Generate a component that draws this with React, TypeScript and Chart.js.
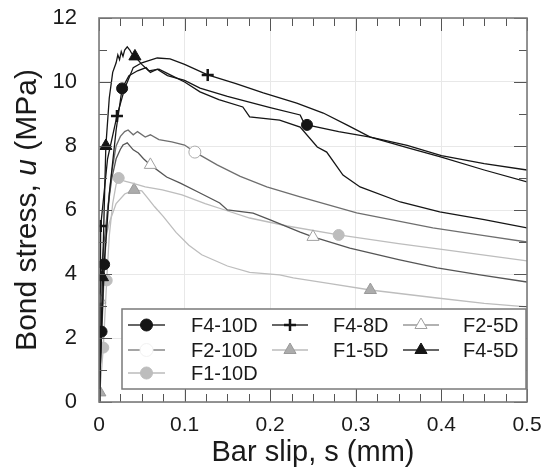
import React, { useEffect, useRef } from 'react';
import { Chart, registerables } from 'chart.js';
Chart.register(...registerables);

// ---- data: slip s (mm) and bond stress u (MPa) ----
const sF410D = [0, 0.003, 0.006, 0.012, 0.02, 0.027, 0.035, 0.045, 0.055, 0.06, 0.068, 0.08, 0.1, 0.118, 0.15, 0.2, 0.235, 0.238, 0.243, 0.28, 0.317, 0.36, 0.4, 0.45, 0.5];
const uF410D = [0, 2.2, 4.3, 6.5, 8.5, 9.8, 10.2, 10.35, 10.45, 10.3, 10.4, 10.2, 10.05, 9.81, 9.55, 9.2, 8.97, 8.8, 8.66, 8.45, 8.28, 8.02, 7.7, 7.45, 7.25];
const mkF410D = [0.003, 0.006, 0.027, 0.243];

const sF48D = [0, 0.001, 0.002, 0.01, 0.021, 0.03, 0.04, 0.05, 0.068, 0.083, 0.1, 0.127, 0.16, 0.192, 0.231, 0.262, 0.29, 0.317, 0.36, 0.4, 0.45, 0.5];
const uF48D = [0, 2.2, 5.5, 7.6, 8.94, 9.8, 10.45, 10.6, 10.75, 10.72, 10.55, 10.22, 9.95, 9.66, 9.34, 9.03, 8.65, 8.28, 7.95, 7.65, 7.25, 6.88];
const mkF48D = [0.002, 0.021, 0.127];

const sF45D = [0, 0.002, 0.004, 0.008, 0.012, 0.016, 0.02, 0.022, 0.024, 0.026, 0.028, 0.03, 0.033, 0.036, 0.038, 0.042, 0.05, 0.058, 0.07, 0.085, 0.1, 0.118, 0.14, 0.168, 0.176, 0.211, 0.235, 0.255, 0.266, 0.285, 0.305, 0.352, 0.398, 0.45, 0.5];
const uF45D = [0, 1.5, 3.9, 8.0, 9.5, 10.3, 10.6, 10.85, 10.7, 10.95, 10.8, 11.0, 11.1, 11.0, 10.9, 10.8, 10.55, 10.35, 10.4, 10.2, 10.0, 9.69, 9.45, 9.22, 8.91, 8.81, 8.59, 7.97, 7.81, 7.09, 6.72, 6.25, 5.94, 5.7, 5.44];
const mkF45D = [0.004, 0.008, 0.042];

const sF210D = [0, 0.003, 0.006, 0.01, 0.015, 0.02, 0.025, 0.03, 0.034, 0.04, 0.045, 0.054, 0.06, 0.07, 0.085, 0.1, 0.112, 0.138, 0.165, 0.196, 0.235, 0.301, 0.39, 0.45, 0.5];
const uF210D = [0, 2.0, 4.0, 6.0, 7.2, 8.0, 8.3, 8.45, 8.5, 8.35, 8.45, 8.28, 8.35, 8.2, 8.13, 8.03, 7.81, 7.41, 7.05, 6.72, 6.41, 5.91, 5.44, 5.2, 5.0];
const mkF210D = [0.112];

const sF25D = [0, 0.001, 0.004, 0.01, 0.015, 0.02, 0.025, 0.028, 0.033, 0.04, 0.046, 0.052, 0.06, 0.079, 0.095, 0.118, 0.141, 0.15, 0.18, 0.2, 0.235, 0.25, 0.293, 0.35, 0.395, 0.445, 0.5];
const uF25D = [0, 3.2, 4.5, 6.0, 7.0, 7.6, 7.9, 8.03, 8.1, 7.88, 7.78, 7.6, 7.41, 7.03, 6.84, 6.53, 6.22, 6.0, 5.9, 5.69, 5.31, 5.16, 4.81, 4.45, 4.19, 3.97, 3.75];
const mkF25D = [0.001, 0.06, 0.25];

const sF110D = [0, 0.003, 0.005, 0.009, 0.012, 0.016, 0.02, 0.023, 0.03, 0.039, 0.054, 0.074, 0.097, 0.124, 0.147, 0.176, 0.22, 0.28, 0.35, 0.42, 0.5];
const uF110D = [0, 1.0, 1.7, 3.8, 5.2, 6.2, 6.8, 7.0, 6.9, 6.84, 6.72, 6.63, 6.47, 6.2, 6.0, 5.75, 5.5, 5.22, 4.95, 4.7, 4.41];
const mkF110D = [0.005, 0.009, 0.023, 0.28];

const sF15D = [0, 0.001, 0.003, 0.007, 0.012, 0.02, 0.03, 0.041, 0.05, 0.056, 0.065, 0.075, 0.09, 0.105, 0.12, 0.15, 0.176, 0.211, 0.227, 0.27, 0.317, 0.395, 0.45, 0.5];
const uF15D = [0, 0.3, 3.9, 5.0, 5.6, 6.2, 6.5, 6.63, 6.6, 6.4, 6.1, 5.8, 5.3, 4.9, 4.6, 4.25, 4.05, 3.97, 3.88, 3.7, 3.5, 3.25, 3.08, 2.97];
const mkF15D = [0.001, 0.041, 0.317];

const xTicksMax = 0.5;
const yTicksMax = 12;

const FONT = '"Liberation Sans", Arial, Helvetica, sans-serif';

type Style = {
  label: string; line: string; shape: 'circle' | 'cross' | 'triangle';
  fill: string; stroke: string; r: number; bw: number;
  legendLine: string; legendDash?: number[]; legendFill?: string; legendStroke?: string;
};

const styles: Record<string, Style> = {
  'F4-10D': { label: 'F4-10D', line: '#151515', shape: 'circle', fill: '#151515', stroke: '#151515', r: 5.5, bw: 1, legendLine: '#333' },
  'F4-8D': { label: 'F4-8D', line: '#151515', shape: 'cross', fill: '#151515', stroke: '#151515', r: 6, bw: 2.5, legendLine: '#333' },
  'F4-5D': { label: 'F4-5D', line: '#151515', shape: 'triangle', fill: '#151515', stroke: '#151515', r: 7, bw: 1, legendLine: '#333' },
  'F2-10D': { label: 'F2-10D', line: '#6e6e6e', shape: 'circle', fill: '#ffffff', stroke: '#aaaaaa', r: 6, bw: 1, legendLine: '#888', legendDash: [14, 11], legendFill: '#ffffff', legendStroke: '#f2f2f2' },
  'F2-5D': { label: 'F2-5D', line: '#555555', shape: 'triangle', fill: '#ffffff', stroke: '#a0a0a0', r: 7, bw: 1, legendLine: '#999' },
  'F1-10D': { label: 'F1-10D', line: '#bdbdbd', shape: 'circle', fill: '#bdbdbd', stroke: '#bdbdbd', r: 5.5, bw: 1, legendLine: '#bbb' },
  'F1-5D': { label: 'F1-5D', line: '#bdbdbd', shape: 'triangle', fill: '#acacac', stroke: '#9a9a9a', r: 7, bw: 1, legendLine: '#bbb' },
};

const legendOrder = [['F4-10D', 'F4-8D', 'F2-5D'], ['F2-10D', 'F1-5D', 'F4-5D'], ['F1-10D']];

function pts(s: number[], u: number[]) {
  return s.map((v, i) => ({ x: v, y: u[i] }));
}

function makeDataset(key: string, s: number[], u: number[], marks: number[]) {
  const st = styles[key];
  return {
    label: key,
    data: pts(s, u),
    borderColor: st.line,
    borderWidth: 1.3,
    backgroundColor: st.fill,
    pointStyle: st.shape,
    pointBackgroundColor: st.fill,
    pointBorderColor: st.stroke,
    pointBorderWidth: st.bw,
    pointRadius: (ctx: any) => (marks.includes(s[ctx.dataIndex]) ? st.r : 0),
    pointHoverRadius: 0,
    tension: 0,
    fill: false,
  };
}

function drawMarker(ctx: CanvasRenderingContext2D, st: Style, cx: number, cy: number) {
  ctx.save();
  ctx.fillStyle = st.legendFill ?? st.fill;
  ctx.strokeStyle = st.legendStroke ?? st.stroke;
  ctx.lineWidth = st.bw;
  ctx.beginPath();
  if (st.shape === 'circle') {
    ctx.arc(cx, cy, st.r + 0.5, 0, Math.PI * 2);
    ctx.fill();
    ctx.stroke();
  } else if (st.shape === 'triangle') {
    const r = st.r;
    ctx.moveTo(cx, cy - r);
    ctx.lineTo(cx - r * 0.866, cy + r * 0.5);
    ctx.lineTo(cx + r * 0.866, cy + r * 0.5);
    ctx.closePath();
    ctx.fill();
    ctx.stroke();
  } else {
    const r = st.r;
    ctx.moveTo(cx - r, cy); ctx.lineTo(cx + r, cy);
    ctx.moveTo(cx, cy - r); ctx.lineTo(cx, cy + r);
    ctx.stroke();
  }
  ctx.restore();
}

const decorations = {
  id: 'decorations',
  afterDraw(chart: any) {
    const { ctx, chartArea } = chart;
    const { left, right, top, bottom } = chartArea;
    const xs = chart.scales.x;
    const ys = chart.scales.y;
    ctx.save();
    // ticks (inside, mirrored)
    ctx.strokeStyle = '#555';
    ctx.lineWidth = 1;
    const seg = (a: number, b: number, c: number, d: number) => { ctx.beginPath(); ctx.moveTo(a, b); ctx.lineTo(c, d); ctx.stroke(); };
    for (let i = 0; i <= yTicksMax; i++) {
      const p = Math.round(ys.getPixelForValue(i)) + 0.5;
      const L = i % 2 === 0 ? 13 : 8;
      seg(left, p, left + L, p);
      seg(right, p, right - L, p);
    }
    for (let i = 0; i <= 20; i++) {
      const p = Math.round(xs.getPixelForValue((i * xTicksMax) / 20)) + 0.5;
      const L = i % 4 === 0 ? 13 : 8;
      seg(p, bottom, p, bottom - L);
      seg(p, top, p, top + L);
    }
    // frame
    ctx.strokeStyle = '#7a7a7a';
    ctx.lineWidth = 1.6;
    ctx.strokeRect(left, top, right - left, bottom - top);

    // axis titles
    ctx.fillStyle = '#1a1a1a';
    ctx.textBaseline = 'alphabetic';
    ctx.textAlign = 'center';
    ctx.font = `29px ${FONT}`;
    ctx.fillText('Bar slip, s (mm)', (left + right) / 2, 461);

    const parts: [string, boolean][] = [['Bond stress, ', false], ['u', true], [' (MPa)', false]];
    const fN = `30px ${FONT}`;
    const fI = `italic 30px ${FONT}`;
    let total = 0;
    for (const [t, it] of parts) { ctx.font = it ? fI : fN; total += ctx.measureText(t).width; }
    ctx.save();
    ctx.translate(36, (top + bottom) / 2);
    ctx.rotate(-Math.PI / 2);
    ctx.textAlign = 'left';
    let x0 = -total / 2;
    for (const [t, it] of parts) { ctx.font = it ? fI : fN; ctx.fillText(t, x0, 0); x0 += ctx.measureText(t).width; }
    ctx.restore();

    // legend
    const bx = 122, by = 309, bw = 404, bh = 80;
    ctx.fillStyle = '#ffffff';
    ctx.fillRect(bx, by, bw, bh);
    ctx.strokeStyle = '#7a7a7a';
    ctx.lineWidth = 1.5;
    ctx.strokeRect(bx, by, bw, bh);
    const rowsY = [325, 350, 373];
    const colLine = [[128, 165], [272, 308], [403, 439]];
    const colText = [191, 333, 463];
    ctx.font = `20px ${FONT}`;
    ctx.textAlign = 'left';
    ctx.textBaseline = 'middle';
    legendOrder.forEach((row, ri) => {
      row.forEach((key, ci) => {
        const st = styles[key];
        const y = rowsY[ri];
        const [x1, x2] = colLine[ci];
        ctx.save();
        ctx.strokeStyle = st.legendLine;
        ctx.lineWidth = 1.5;
        if (st.legendDash) ctx.setLineDash(st.legendDash);
        ctx.beginPath(); ctx.moveTo(x1, y); ctx.lineTo(x2, y); ctx.stroke();
        ctx.restore();
        drawMarker(ctx, st, (x1 + x2) / 2, y);
        ctx.fillStyle = '#1a1a1a';
        ctx.fillText(st.label, colText[ci], y + 1);
      });
    });
    ctx.restore();
  },
};

export default function App() {
  const ref = useRef<HTMLCanvasElement>(null);
  useEffect(() => {
    document.body.style.margin = '0';
    const chart = new Chart(ref.current!, {
      type: 'line',
      data: {
        datasets: [
          makeDataset('F4-10D', sF410D, uF410D, mkF410D),
          makeDataset('F4-8D', sF48D, uF48D, mkF48D),
          makeDataset('F4-5D', sF45D, uF45D, mkF45D),
          makeDataset('F2-10D', sF210D, uF210D, mkF210D),
          makeDataset('F2-5D', sF25D, uF25D, mkF25D),
          makeDataset('F1-10D', sF110D, uF110D, mkF110D),
          makeDataset('F1-5D', sF15D, uF15D, mkF15D),
        ] as any,
      },
      options: {
        animation: false,
        responsive: false,
        devicePixelRatio: 1,
        layout: { padding: { left: 0, top: 18, right: 17, bottom: 0 } },
        plugins: { legend: { display: false }, tooltip: { enabled: false } },
        events: [],
        scales: {
          x: {
            type: 'linear',
            min: 0,
            max: xTicksMax,
            afterFit: (s: any) => { s.height = 70; s.paddingLeft = 0; s.paddingRight = 0; },
            grid: { color: '#e8e8e8', lineWidth: 1, drawTicks: false },
            border: { display: false },
            ticks: { stepSize: 0.1, padding: 11, color: '#1a1a1a', font: { family: FONT, size: 21 } },
          },
          y: {
            type: 'linear',
            min: 0,
            max: yTicksMax,
            afterFit: (s: any) => { s.width = 99; s.paddingTop = 0; s.paddingBottom = 0; },
            grid: { color: '#e8e8e8', lineWidth: 1, drawTicks: false },
            border: { display: false },
            ticks: { stepSize: 2, padding: 22, color: '#1a1a1a', font: { family: FONT, size: 22 } },
          },
        },
      },
      plugins: [decorations],
    });
    return () => chart.destroy();
  }, []);
  return (
    <div style={{ width: 544, height: 472 }}>
      <canvas ref={ref} width={544} height={472} />
    </div>
  );
}
